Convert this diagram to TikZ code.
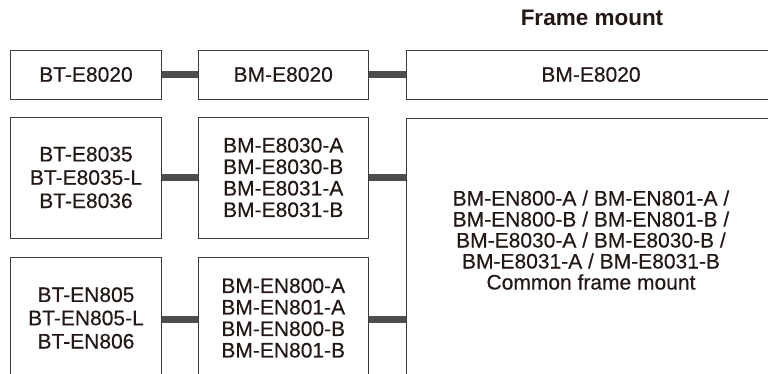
\documentclass[tikz,border=0pt]{standalone}
\usepackage{fontspec}
\setmainfont{Liberation Sans}
\newfontfamily\medfont{Liberation Sans}[FakeBold=0.3]
\definecolor{txt}{HTML}{231815}
\definecolor{edge}{HTML}{3E3A39}
\definecolor{bar}{HTML}{4D4D4D}
\begin{document}
\begin{tikzpicture}[x=1pt,y=-1pt,
  box/.style={draw=edge, line width=0.9pt, fill=white, inner sep=0pt, align=center,
    text=txt, font=\medfont\fontsize{21}{21.5}\selectfont},
  abox/.style={box, font=\medfont\fontsize{21}{23.3}\selectfont},
  lbl/.style={inner sep=0pt, align=center, text=txt, font=\medfont\fontsize{21}{21}\selectfont},
  link/.style={draw=bar, line width=7pt}]
\useasboundingbox (0,0) rectangle (768,374);
\begin{scope}
\clip (0,0) rectangle (768,374);
\node[inner sep=0pt, text=txt, font=\bfseries\fontsize{22.5}{22.5}\selectfont] (title) at (592,18) {Frame mount};
% row 1
\node[box, minimum width=151, minimum height=49] (a1) at (86,74.5) {BT-E8020};
\node[box, minimum width=170.5, minimum height=49] (b1) at (283.25,74.5) {BM-E8020};
\node[box, minimum width=370, minimum height=49] (c1) at (591,74.5) {BM-E8020};
% row 2
\node[abox, minimum width=151, minimum height=121] (a2) at (86,177.5) {BT-E8035\\BT-E8035-L\\BT-E8036};
\node[box, minimum width=170.5, minimum height=121] (b2) at (283.25,177.5) {BM-E8030-A\\BM-E8030-B\\BM-E8031-A\\BM-E8031-B};
% row 3
\node[abox, minimum width=151, minimum height=122] (a3) at (86,318) {BT-EN805\\BT-EN805-L\\BT-EN806};
\node[box, minimum width=170.5, minimum height=122] (b3) at (283.25,318) {BM-EN800-A\\BM-EN801-A\\BM-EN800-B\\BM-EN801-B};
% common box
\node[box, minimum width=370, minimum height=261] (d) at (591,248.5) {};
\node[lbl] (dtext) at (591,240) {BM-EN800-A / BM-EN801-A /\\BM-EN800-B / BM-EN801-B /\\BM-E8030-A / BM-E8030-B /\\BM-E8031-A / BM-E8031-B\\Common frame mount};
% connectors
\draw[link] (a1.east) -- (b1.west);
\draw[link] (b1.east) -- (b1.east -| c1.west);
\draw[link] (a2.east) -- (b2.west);
\draw[link] (b2.east) -- (b2.east -| d.west);
\draw[link] ([yshift=-1.5pt]a3.east) -- ([yshift=-1.5pt]a3.east -| b3.west);
\draw[link] ([yshift=-1.5pt]b3.east) -- ([yshift=-1.5pt]b3.east -| d.west);
\end{scope}
\end{tikzpicture}
\end{document}
